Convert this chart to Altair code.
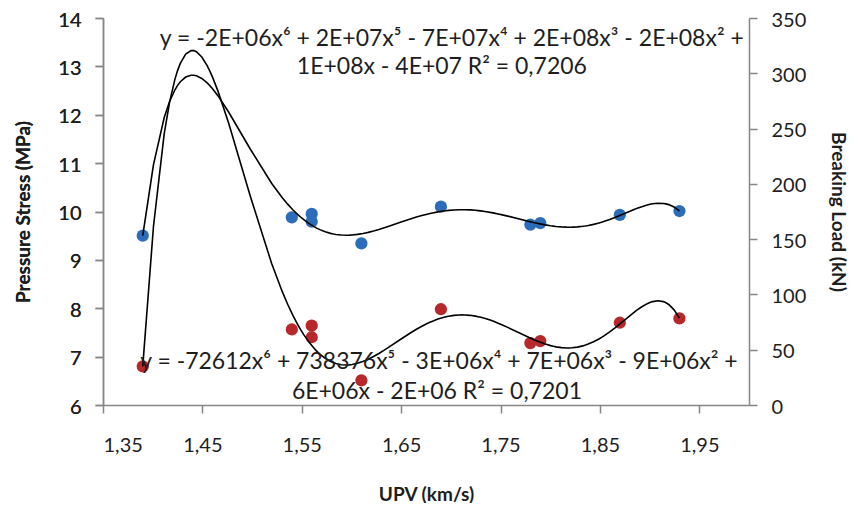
import altair as alt
import pandas as pd

FONT = "Lato"

# ---- data ----
upv = [1.39, 1.54, 1.56, 1.56, 1.61, 1.69, 1.78, 1.79, 1.87, 1.93]
stress = [9.50, 9.88, 9.95, 9.79, 9.34, 10.10, 9.73, 9.76, 9.93, 10.01]   # MPa (blue)
load = [35.0, 68.3, 71.8, 61.3, 22.3, 86.6, 56.0, 57.8, 74.4, 78.3]        # kN (red)

x_ticks = [1.35, 1.45, 1.55, 1.65, 1.75, 1.85, 1.95]
left_ticks = [6, 7, 8, 9, 10, 11, 12, 13, 14]
right_ticks = [0, 50, 100, 150, 200, 250, 300, 350]

eq_text = [
    "y = -2E+06x⁶ + 2E+07x⁵ - 7E+07x⁴ + 2E+08x³ - 2E+08x² +",
    "1E+08x - 4E+07 R² = 0,7206",
    "y = -72612x⁶ + 738376x⁵ - 3E+06x⁴ + 7E+06x³ - 9E+06x² +",
    "6E+06x - 2E+06 R² = 0,7201",
]
eq_x = [1.701, 1.691, 1.688, 1.686]
eq_y = [13.56, 12.98, 6.88, 6.27]

df = pd.DataFrame({"upv": upv, "stress": stress, "load": load})
eq = pd.DataFrame({"text": eq_text, "upv": eq_x, "stress": eq_y})

BLUE = "#2B6DB8"
RED = "#B7282B"
AXIS_GRAY = "#868686"
TEXT = "#1e1e1e"

x_enc = alt.X(
    "upv:Q",
    scale=alt.Scale(domain=[1.35, 2.0], nice=False, zero=False),
    axis=alt.Axis(
        values=x_ticks,
        labelExpr="replace(format(datum.value, '.2f'), '.', ',')",
        title="UPV (km/s)",
        titlePadding=30,
        labelPadding=22,
    ),
)

y_left = alt.Y(
    "stress:Q",
    scale=alt.Scale(domain=[6, 14], nice=False, zero=False),
    axis=alt.Axis(values=left_ticks, title="Pressure Stress (MPa)", titlePadding=24,
                  labelPadding=14, labelOffset=2, orient="left"),
)

y_right = alt.Y(
    "load:Q",
    scale=alt.Scale(domain=[0, 350], nice=False),
    axis=alt.Axis(values=right_ticks, title="Breaking Load (kN)", titlePadding=22,
                  labelPadding=14, labelOffset=2, orient="right"),
)

blue_pts = alt.Chart(df).mark_circle(size=150, color=BLUE, opacity=1).encode(x=x_enc, y=y_left)
blue_fit = (
    alt.Chart(df)
    .transform_regression("upv", "stress", method="poly", order=6)
    .mark_line(color="black", strokeWidth=1.6, clip=True)
    .encode(x=x_enc, y=y_left)
)
eq_marks = (
    alt.Chart(eq)
    .mark_text(font=FONT, fontSize=23, color=TEXT, align="center", baseline="middle")
    .encode(x=x_enc, y=y_left, text="text:N")
)

red_pts = alt.Chart(df).mark_circle(size=150, color=RED, opacity=1).encode(x=x_enc, y=y_right)
red_fit = (
    alt.Chart(df)
    .transform_regression("upv", "load", method="poly", order=6)
    .mark_line(color="black", strokeWidth=1.6, clip=True)
    .encode(x=x_enc, y=y_right)
)

left_layer = alt.layer(blue_pts, blue_fit)
right_layer = alt.layer(red_pts, red_fit)

chart = (
    alt.layer(left_layer, right_layer, eq_marks)
    .resolve_scale(y="independent")
    .properties(
        width=646,
        height=387,
        autosize=alt.AutoSizeParams(type="none"),
        padding={"left": 95, "top": 10, "right": 103, "bottom": 98},
    )
    .configure_view(stroke=None)
    .configure_axis(
        grid=False,
        domainColor=AXIS_GRAY,
        domainWidth=1.5,
        tickColor=AXIS_GRAY,
        tickWidth=1.5,
        tickSize=8,
        labelFont=FONT,
        labelFontSize=20,
        labelColor=TEXT,
        titleFont=FONT,
        titleFontSize=19,
        titleFontWeight="bold",
        titleColor=TEXT,
    )
)

chart.save("out.html", embed_options={"renderer": "svg", "actions": False})
